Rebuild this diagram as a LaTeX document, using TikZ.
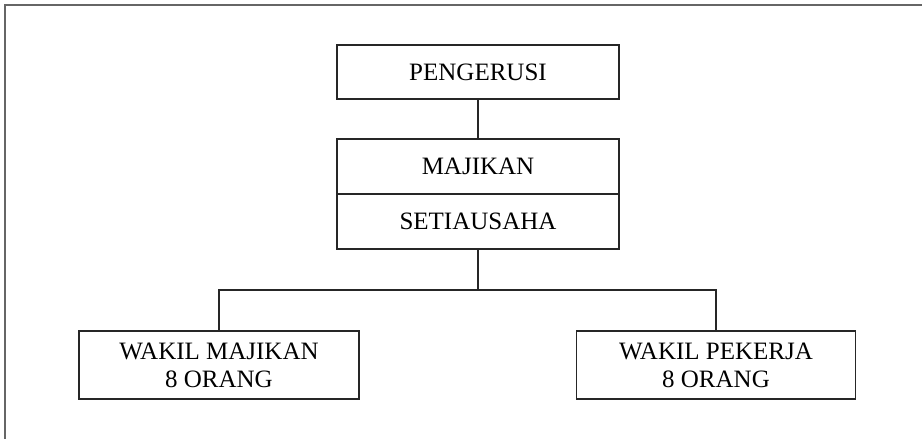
\documentclass[tikz,border=0pt]{standalone}
\usepackage{fontspec}
\setmainfont{Liberation Serif}
\usepackage{tikz}
\tikzstyle{node_box} = [rectangle, draw=black!85, line width=1.1pt, inner sep=0pt, align=center, font=\fontsize{25}{28}\selectfont]
\tikzstyle{node_top} = [node_box, minimum width=282pt, minimum height=54pt]
\tikzstyle{node_low} = [node_box, minimum width=280pt, minimum height=68pt]
\tikzstyle{edge_normal} = [draw=black!85, line width=1.1pt]
\tikzstyle{frame_line} = [draw=black!60, line width=2pt]

\begin{document}
\begin{tikzpicture}[x=1pt,y=-1pt]
\useasboundingbox (0,0) rectangle (922,439);
\draw[frame_line] (5,439) -- (5,5) -- (922,5);
\node (P) at (478,72) [node_top] {PENGERUSI};
\node (M) at (478,166.5) [node_top, minimum height=55pt] {MAJIKAN};
\node (S) at (478,221.5) [node_top, minimum height=55pt] {SETIAUSAHA};
\node (WM) at (219,365) [node_low] {WAKIL MAJIKAN\\8 ORANG};
\node (WP) at (716,365) [node_low, minimum width=279pt] {WAKIL PEKERJA\\8 ORANG};
\coordinate (J) at (478,290);
\draw[edge_normal] (P)--(M);
\draw[edge_normal] (S)--(J);
\draw[edge_normal] (J)-|(WM);
\draw[edge_normal] (J)-|(WP);
\end{tikzpicture}
\end{document}
